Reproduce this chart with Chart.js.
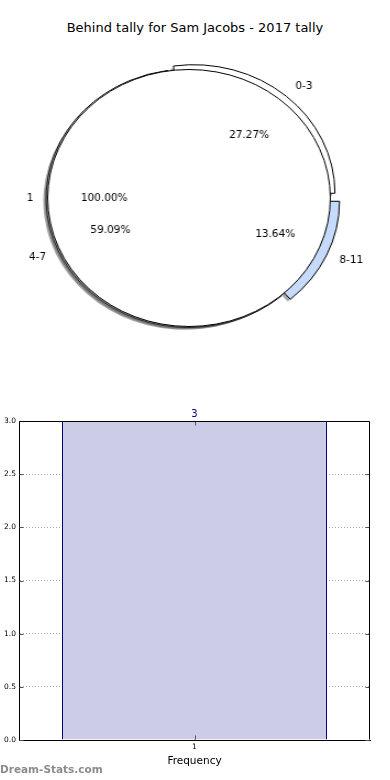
<!DOCTYPE html>
<html>
<head>
<meta charset="utf-8">
<script src="https://cdn.jsdelivr.net/npm/chart.js@4.4.1/dist/chart.umd.min.js"></script>
<style>
body{margin:0;background:#fff}
#page{position:relative;width:390px;height:780px;overflow:hidden;background:#fff;font-family:"DejaVu Sans",sans-serif}
#title{position:absolute;left:0;top:20px;width:390px;text-align:center;font-size:13px;color:#000}
.pie{position:absolute;left:19px;top:48px;transform:scaleX(1.1);transform-origin:center center}
#freqChart{position:absolute;left:0;top:400px}
#mark{position:absolute;left:0;top:763px;font-size:10.5px;font-weight:bold;color:#8c8c8c}
</style>
</head>
<body>
<div id="page">
<div id="title">Behind tally for Sam Jacobs - 2017 tally</div>
<canvas id="tallyPie" class="pie" width="340" height="300"></canvas>
<canvas id="mainPie" class="pie" width="340" height="300"></canvas>
<canvas id="freqChart" width="390" height="380"></canvas>
<div id="mark">Dream-Stats.com</div>
</div>
<script>
// data
const mainLabels = ['1']
const mainValues = [3]

const tallyLabels = ['0-3', '4-7', '8-11']
const tallyValues = [6, 13, 3]

const barLabels = ['1']
const barValues = [3]
const yTickValues = [0, 0.5, 1, 1.5, 2, 2.5, 3]

// styles
const STRETCH = 1.1
const tallyColors = ['#ffffff', '#ffffff', '#c6dafc']
const tallyOffsets = [25, 3, 29]
const pieFont = '10.5px "DejaVu Sans"'

// centre of an arc after chart.js applies its offset
function arcCenter(arc){
const off = (arc.options.offset || 0) / 4
const fix = 1 - Math.sin(Math.min(Math.PI, arc.endAngle - arc.startAngle))
const t = off * (1 + fix)
const mid = (arc.startAngle + arc.endAngle) / 2
return {x: arc.x + Math.cos(mid) * t, y: arc.y + Math.sin(mid) * t, mid: mid}
}

const pieShadow = {
id: 'pieShadow',
beforeDatasetsDraw(chart){
const ctx = chart.ctx
const sx = -2.6, sy = 2.6
chart.getDatasetMeta(0).data.forEach(arc => {
const c = arcCenter(arc)
ctx.save()
ctx.fillStyle = 'rgba(77,77,77,0.5)'
ctx.beginPath()
ctx.moveTo(c.x + sx, c.y + sy)
ctx.arc(c.x + sx, c.y + sy, arc.outerRadius, arc.startAngle, arc.endAngle)
ctx.closePath()
ctx.fill()
ctx.restore()
})
}
}

// full-circle pie: outline only, no radial seam
const pieOutline = {
id: 'pieOutline',
afterDatasetsDraw(chart){
const ctx = chart.ctx
chart.getDatasetMeta(0).data.forEach(arc => {
ctx.save()
ctx.strokeStyle = '#000'
ctx.lineWidth = 1
ctx.beginPath()
ctx.arc(arc.x, arc.y, arc.outerRadius, 0, Math.PI * 2)
ctx.stroke()
ctx.restore()
})
}
}

function putText(ctx, txt, x, y, align){
ctx.save()
ctx.translate(x, y)
ctx.scale(1 / STRETCH, 1)
ctx.font = pieFont
ctx.fillStyle = '#000'
ctx.textAlign = align
ctx.textBaseline = 'middle'
ctx.fillText(txt, 0, 0)
ctx.restore()
}

function drawPieLabels(ctx, chart){
const meta = chart.getDatasetMeta(0)
const vals = chart.data.datasets[0].data
const total = vals.reduce((a, b) => a + b, 0)
meta.data.forEach((arc, i) => {
const c = arcCenter(arc)
const r = arc.outerRadius
const cos = Math.cos(c.mid), sin = Math.sin(c.mid)
putText(ctx, chart.data.labels[i], c.x + cos * r * 1.1, c.y + sin * r * 1.1, cos > 0 ? 'left' : 'right')
putText(ctx, (vals[i] / total * 100).toFixed(2) + '%', c.x + cos * r * 0.6, c.y + sin * r * 0.6, 'center')
})
}

function pieOptions(){
return {
responsive: false,
animation: false,
events: [],
rotation: 90,
radius: 128.5,
layout: {padding: 0},
plugins: {legend: {display: false}, tooltip: {enabled: false}}
}
}

const tallyChart = new Chart(document.getElementById('tallyPie'), {
type: 'pie',
data: {
labels: tallyLabels.slice().reverse(),
datasets: [{
data: tallyValues.slice().reverse(),
backgroundColor: tallyColors.slice().reverse(),
offset: tallyOffsets.slice().reverse(),
borderColor: '#000',
borderWidth: 1
}]
},
options: pieOptions(),
plugins: [pieShadow]
})

const pieLabels = {
id: 'pieLabels',
afterDraw(chart){
drawPieLabels(chart.ctx, tallyChart)
drawPieLabels(chart.ctx, chart)
}
}

new Chart(document.getElementById('mainPie'), {
type: 'pie',
data: {
labels: mainLabels,
datasets: [{
data: mainValues,
backgroundColor: '#ffffff',
borderWidth: 0
}]
},
options: pieOptions(),
plugins: [pieShadow, pieOutline, pieLabels]
})

// bar chart
const frame = {
id: 'frame',
afterDraw(chart){
const ctx = chart.ctx
const a = chart.chartArea
const l = Math.round(a.left) + 0.5, r = Math.round(a.right) - 0.5
const t = Math.round(a.top) + 0.5, b = Math.round(a.bottom) - 0.5
ctx.save()
ctx.strokeStyle = '#555'
ctx.lineWidth = 1
ctx.beginPath()
chart.scales.y.ticks.forEach(tk => {
const y = Math.round(chart.scales.y.getPixelForValue(tk.value)) + 0.5
ctx.moveTo(l, y); ctx.lineTo(l + 4, y)
ctx.moveTo(r, y); ctx.lineTo(r - 4, y)
})
const x = Math.round(chart.scales.x.getPixelForTick(0)) + 0.5
ctx.moveTo(x, t); ctx.lineTo(x, t + 4)
ctx.moveTo(x, b); ctx.lineTo(x, b - 4)
ctx.stroke()
ctx.strokeStyle = '#000'
ctx.beginPath()
ctx.moveTo(l, t); ctx.lineTo(r, t); ctx.lineTo(r, b)
ctx.stroke()
ctx.restore()
}
}

const barValue = {
id: 'barValue',
afterDatasetsDraw(chart){
const ctx = chart.ctx
const vals = chart.data.datasets[0].data
chart.getDatasetMeta(0).data.forEach((bar, i) => {
ctx.save()
ctx.font = '10px "DejaVu Sans"'
ctx.fillStyle = '#000080'
ctx.textAlign = 'center'
ctx.textBaseline = 'bottom'
ctx.fillText(String(vals[i]), bar.x, bar.y - 2)
ctx.restore()
})
}
}

const tickFont = {family: 'DejaVu Sans', size: 7.5}

new Chart(document.getElementById('freqChart'), {
type: 'bar',
data: {
labels: barLabels,
datasets: [{
data: barValues,
backgroundColor: '#ccccE6',
borderColor: '#000080',
borderWidth: 1,
barPercentage: 265 / 351,
categoryPercentage: 1
}]
},
options: {
responsive: false,
animation: false,
events: [],
layout: {padding: {top: 21, right: 20, bottom: 8, left: 0}},
plugins: {legend: {display: false}, tooltip: {enabled: false}},
scales: {
x: {
grid: {color: '#aaa', offset: false, drawTicks: false},
border: {color: '#000', dash: [1, 2]},
ticks: {font: tickFont, color: '#000', padding: 3},
title: {display: true, text: 'Frequency', color: '#000', font: {family: 'DejaVu Sans', size: 10.5}, padding: {top: 0, bottom: 4}},
afterFit: s => { s.height = 32 }
},
y: {
min: 0,
max: 3,
afterBuildTicks: s => { s.ticks = yTickValues.map(v => ({value: v})) },
grid: {color: '#aaa', drawTicks: false},
border: {color: '#000', dash: [1, 2]},
ticks: {font: tickFont, color: '#000', padding: 3, callback: v => v.toFixed(1)},
afterFit: s => { s.width = 19 }
}
}
},
plugins: [frame, barValue]
})
</script>
</body>
</html>
